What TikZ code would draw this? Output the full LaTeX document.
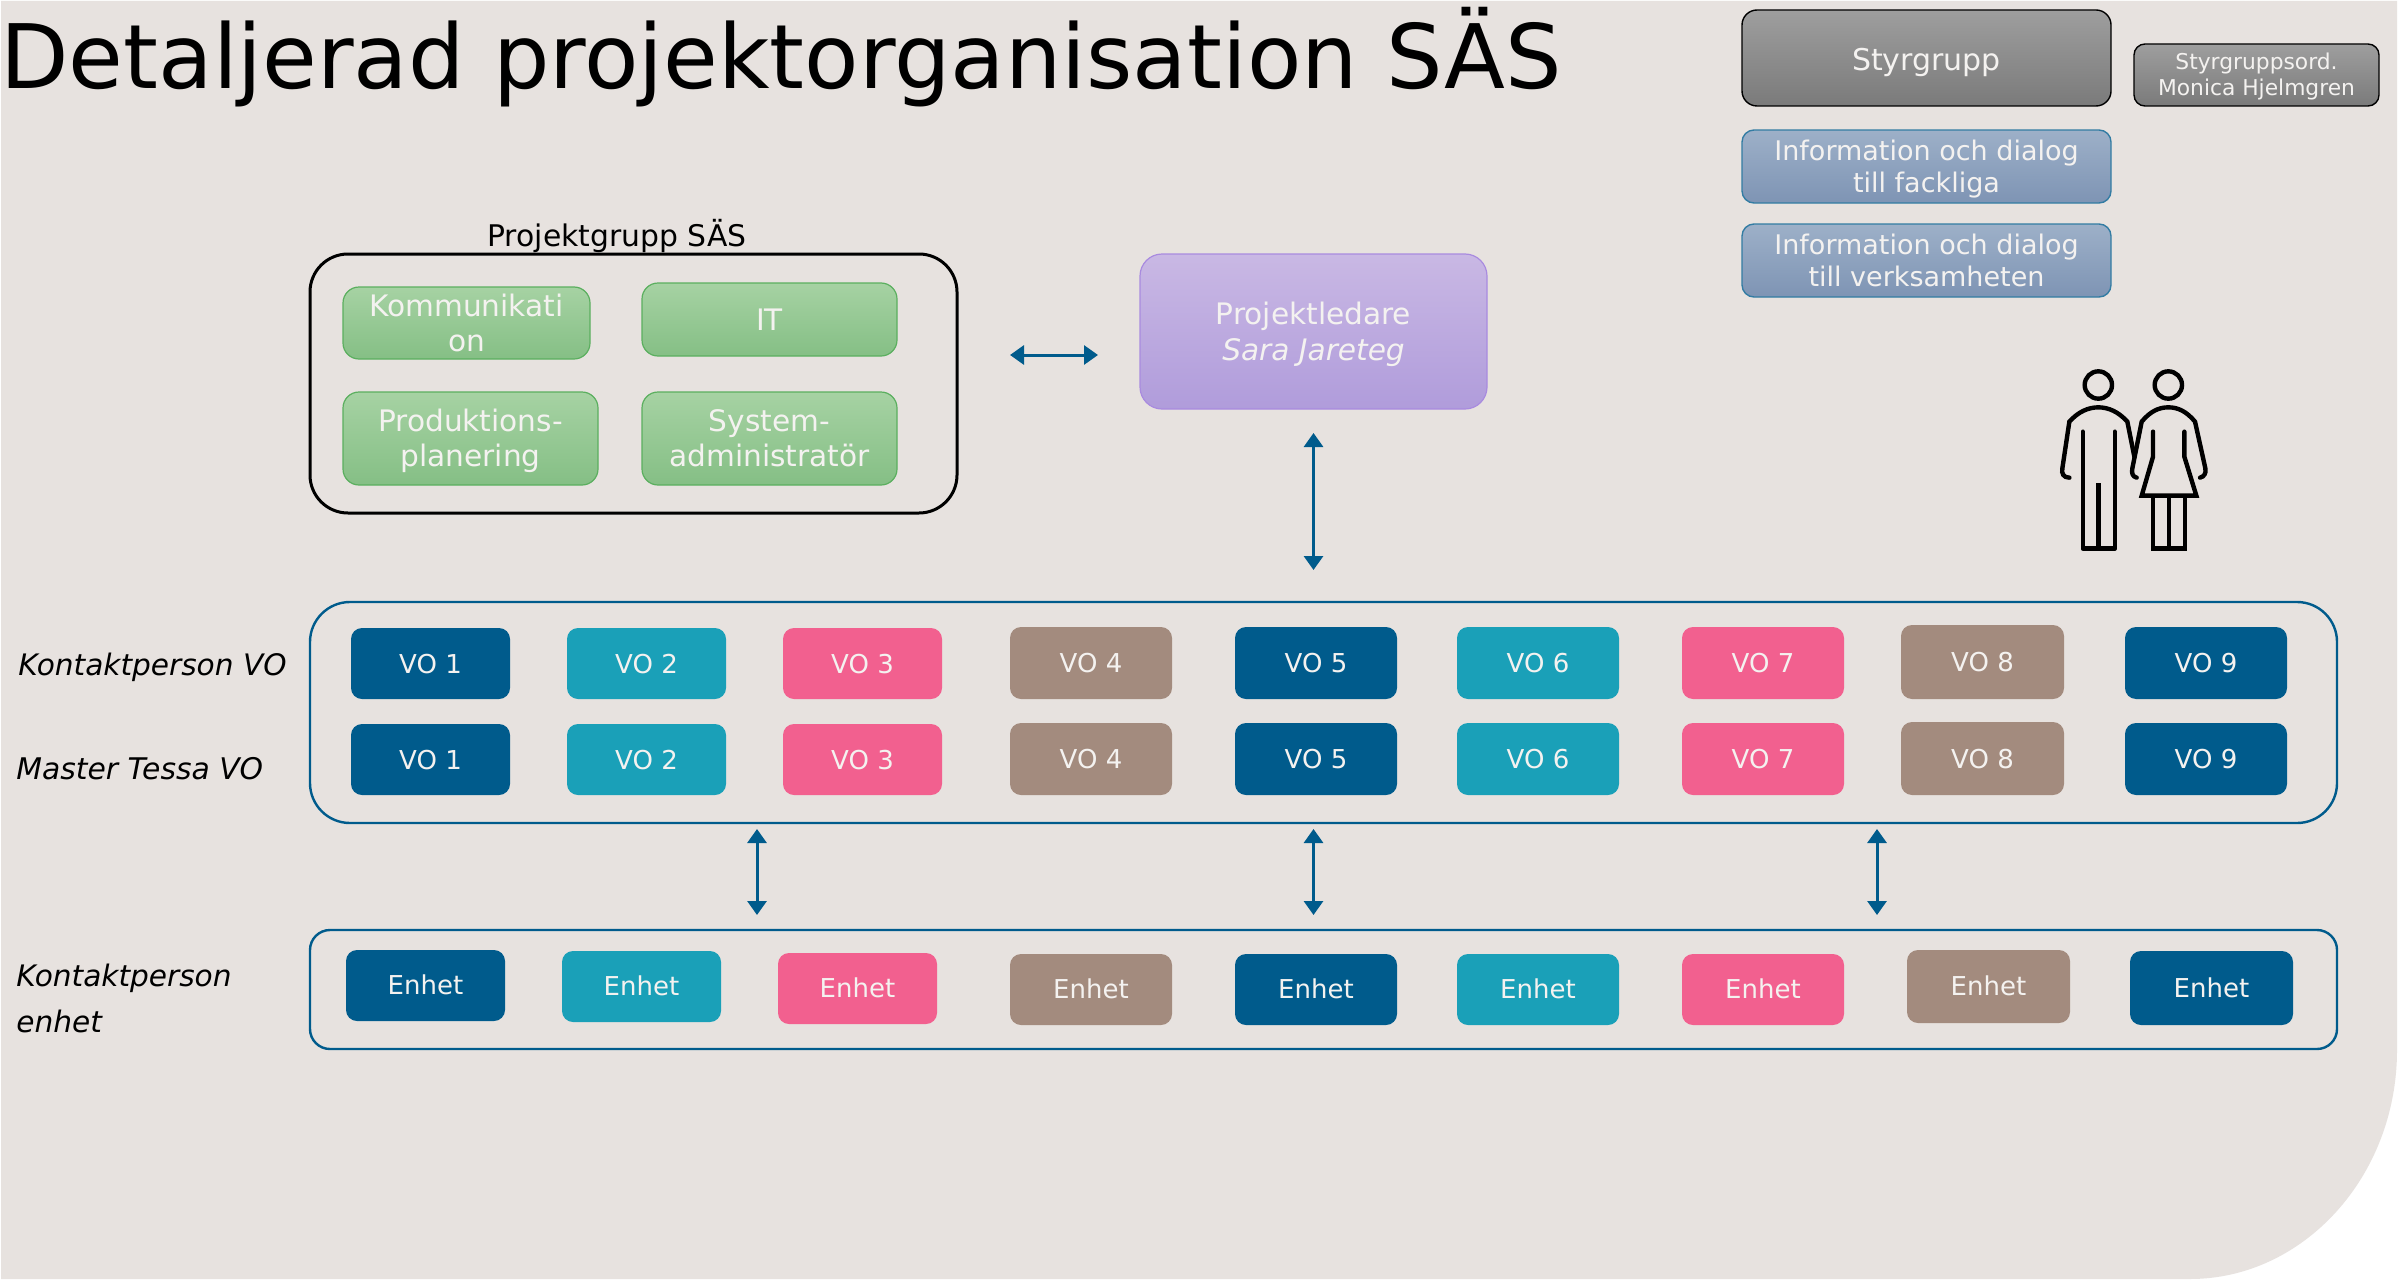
\documentclass[tikz,border=0pt]{standalone}
\usepackage{fontspec}
\setmainfont{DejaVu Sans}
\usetikzlibrary{arrows.meta,calc}
\definecolor{bgc}{HTML}{E7E2DF}
\definecolor{vob}{HTML}{005B8C}
\definecolor{vot}{HTML}{1AA0B8}
\definecolor{vop}{HTML}{F2608F}
\definecolor{vor}{HTML}{A38B7E}
\definecolor{txt}{HTML}{F4F2F0}
\definecolor{HTMLa}{HTML}{9DB0C8}
\definecolor{HTMLb}{HTML}{7E94B4}
\definecolor{HTMLc}{HTML}{A6D2A3}
\definecolor{HTMLd}{HTML}{85BF85}
\definecolor{HTMLg}{HTML}{5BAF5F}
\definecolor{HTMLe}{HTML}{C9B8E4}
\definecolor{HTMLf}{HTML}{B09CDB}
\definecolor{HTMLh}{HTML}{A98BDF}
\def\bxdrop{0pt}
\tikzset{
  textdrop/.store in=\bxdrop,
  box/.style={rounded corners=5.5pt,inner sep=0pt,outer sep=0pt,text=txt,textdrop=0pt},
  vobox/.style={box,textdrop=1.5pt,font=\fontsize{13}{15}\selectfont},
  enbox/.style={box,textdrop=1.2pt,font=\fontsize{13}{15}\selectfont},
  cblue/.style={fill=vob},cteal/.style={fill=vot},cpink/.style={fill=vop},cbrown/.style={fill=vor},
  graybox/.style={box,draw=black,line width=.7pt,top color=black!38,bottom color=black!52},
  infobox/.style={box,rounded corners=6pt,draw=vob!80,line width=.7pt,top color=HTMLa,bottom color=HTMLb,textdrop=1.5pt,font=\fontsize{13.5}{16}\selectfont},
  greenbox/.style={box,rounded corners=8pt,draw=HTMLg,line width=.6pt,top color=HTMLc,bottom color=HTMLd,textdrop=1.5pt,font=\fontsize{14.8}{17.5}\selectfont},
  panel/.style={draw=vob,line width=1.2pt,inner sep=0,outer sep=0},
  link/.style={draw=vob,line width=1.5pt,{Triangle[length=7pt,width=9.5pt]}-{Triangle[length=7pt,width=9.5pt]}},
  lab/.style={anchor=west,inner sep=0pt,font=\fontsize{14.9}{16}\selectfont\itshape,align=left},
  person/.style={draw=black,line width=2.2pt,line join=miter,line cap=round},
  leg/.style={draw=black,line width=2.2pt,line join=miter,line cap=butt},
}
\newcommand{\bx}[7]{%
  \pgfmathsetmacro\bxw{(#4-#2)*0.5}\pgfmathsetmacro\bxh{(#5-#3)*0.5}%
  \node[#6,minimum width=\bxw pt,minimum height=\bxh pt] (#1) at ({(#2+#4)/2},{(#3+#5)/2}) {\setbox\strutbox\hbox{\vrule height.72\baselineskip depth.28\baselineskip width0pt}\raisebox{-\bxdrop}[\height][\depth]{\begin{tabular}{@{}c@{}}#7\end{tabular}}};}
\begin{document}
\begin{tikzpicture}[x=0.5pt,y=-0.5pt]
\useasboundingbox (0,0) rectangle (2402,1279);
\fill[white] (0,0) rectangle (2402,1279);
\fill[bgc] (1,1) -- (2397,1) -- (2397,1050) .. controls (2397,1177) and (2303,1279) .. (2190,1279) -- (1,1279) -- cycle;
% title
\node[anchor=west,inner sep=0pt,font=\fontsize{44.5}{48}\selectfont] (title) at (0,57) {Detaljerad projektorganisation SÄS};
% top right
\bx{sg}{1742}{10}{2111}{106}{graybox,rounded corners=7.5pt,textdrop=2.2pt,font=\fontsize{15}{18}\selectfont}{Styrgrupp}
\bx{ord}{2134}{44}{2379}{106}{graybox,textdrop=.8pt,font=\fontsize{10.9}{13}\selectfont}{Styrgruppsord.\\Monica Hjelmgren}
\bx{inf1}{1742}{130}{2111}{203}{infobox}{Information och dialog\\till fackliga}
\bx{inf2}{1742}{224}{2111}{297}{infobox}{Information och dialog\\till verksamheten}
% project group
\node[panel,draw=black,line width=1.5pt,rounded corners=19pt,minimum width=323.5pt,minimum height=129.5pt] (pg) at (633.5,383.5) {};
\node[inner sep=0pt,font=\fontsize{14.9}{16}\selectfont] (pgt) at (617,236) {Projektgrupp SÄS};
\bx{g1}{343}{287}{590}{359}{greenbox}{Kommunikati\\on}
\bx{g2}{642}{283}{897}{356}{greenbox}{IT}
\bx{g3}{343}{392}{598}{485}{greenbox}{Produktions-\\planering}
\bx{g4}{642}{392}{897}{485}{greenbox}{System-\\administratör}
\bx{pl}{1140}{254}{1487}{409}{box,rounded corners=11pt,draw=HTMLh,line width=.6pt,top color=HTMLe,bottom color=HTMLf,textdrop=1.4pt,font=\fontsize{14.8}{18}\selectfont}{Projektledare\\\textit{Sara Jareteg}}
% panels
\node[panel,rounded corners=20pt,minimum width=1013.5pt,minimum height=110.5pt] (vop) at (1323.5,712.5) {};
\node[panel,rounded corners=10pt,minimum width=1013.5pt,minimum height=59.5pt] (enp) at (1323.5,989.5) {};
% left labels
\node[lab,font=\fontsize{14.8}{16}\selectfont\itshape] (l1) at (18,667) {Kontaktperson VO};
\node[lab] (l2) at (16,769) {Master Tessa VO};
\node[lab,font=\fontsize{14.8}{23}\selectfont\itshape] (l3) at (16,998) {Kontaktperson\\enhet};
% VO rows
\bx{a1}{351}{628}{510}{699}{vobox,cblue}{VO 1}
\bx{a2}{567}{628}{726}{699}{vobox,cteal}{VO 2}
\bx{a3}{783}{628}{942}{699}{vobox,cpink}{VO 3}
\bx{a4}{1010}{627}{1172}{699}{vobox,cbrown}{VO 4}
\bx{a5}{1235}{627}{1397}{699}{vobox,cblue}{VO 5}
\bx{a6}{1457}{627}{1619}{699}{vobox,cteal}{VO 6}
\bx{a7}{1682}{627}{1844}{699}{vobox,cpink}{VO 7}
\bx{a8}{1901}{625}{2064}{699}{vobox,cbrown}{VO 8}
\bx{a9}{2125}{627}{2287}{699}{vobox,cblue}{VO 9}
\bx{b1}{351}{724}{510}{795}{vobox,cblue}{VO 1}
\bx{b2}{567}{724}{726}{795}{vobox,cteal}{VO 2}
\bx{b3}{783}{724}{942}{795}{vobox,cpink}{VO 3}
\bx{b4}{1010}{723}{1172}{795}{vobox,cbrown}{VO 4}
\bx{b5}{1235}{723}{1397}{795}{vobox,cblue}{VO 5}
\bx{b6}{1457}{723}{1619}{795}{vobox,cteal}{VO 6}
\bx{b7}{1682}{723}{1844}{795}{vobox,cpink}{VO 7}
\bx{b8}{1901}{722}{2064}{795}{vobox,cbrown}{VO 8}
\bx{b9}{2125}{723}{2287}{795}{vobox,cblue}{VO 9}
% Enhet row
\bx{e1}{346}{950}{505}{1021}{enbox,cblue}{Enhet}
\bx{e2}{562}{951}{721}{1022}{enbox,cteal}{Enhet}
\bx{e3}{778}{953}{937}{1024}{enbox,cpink}{Enhet}
\bx{e4}{1010}{954}{1172}{1025}{enbox,cbrown}{Enhet}
\bx{e5}{1235}{954}{1397}{1025}{enbox,cblue}{Enhet}
\bx{e6}{1457}{954}{1619}{1025}{enbox,cteal}{Enhet}
\bx{e7}{1682}{954}{1844}{1025}{enbox,cpink}{Enhet}
\bx{e8}{1907}{950}{2070}{1023}{enbox,cbrown}{Enhet}
\bx{e9}{2130}{951}{2293}{1025}{enbox,cblue}{Enhet}
% connectors
\coordinate (lvl) at (1050,355);
\coordinate (xa) at (757,880);
\coordinate (xc) at (1877,880);
\draw[link,shorten <=26.5pt,shorten >=21pt] (pg.east |- lvl) -- (pl.west |- lvl);
\draw[link,shorten <=12pt,shorten >=16pt] (pl.south) -- (pl.south |- vop.north);
\draw[link,shorten <=3pt,shorten >=7.5pt] (xa |- vop.south) -- (xa |- enp.north);
\draw[link,shorten <=3pt,shorten >=7.5pt] (pl.south |- vop.south) -- (pl.south |- enp.north);
\draw[link,shorten <=3pt,shorten >=7.5pt] (xc |- vop.south) -- (xc |- enp.north);
% people icon
\begin{scope}[shift={(2000,340)},x=0.16667pt,y=-0.16667pt]
\draw[person] (295,135) circle (41);
\draw[person] (505,135) circle (41);
\draw[person] (208,413) .. controls (190,413) and (184,400) .. (187,385) -- (208,245) .. controls (235,215) and (265,202) .. (295,202) .. controls (325,202) and (355,215) .. (382,245) -- (403,350);
\draw[person] (410,413) .. controls (398,410) and (394,400) .. (397,385) -- (425,245) .. controls (450,215) and (475,202) .. (505,202) .. controls (535,202) and (560,215) .. (585,245) -- (616,385) .. controls (619,400) and (612,410) .. (600,413);
\draw[person] (248,275) -- (248,626);
\draw[person] (344,275) -- (344,626);
\draw[leg] (248,626) -- (344,626);
\draw[leg] (295,430) -- (295,626);
\draw[person] (459,275) -- (459,350) -- (425,467) -- (589,467) -- (553,350) -- (553,275);
\draw[leg] (459,467) -- (459,626) -- (555,626) -- (555,467);
\draw[leg] (507,467) -- (507,626);
\end{scope}
\end{tikzpicture}
\end{document}
